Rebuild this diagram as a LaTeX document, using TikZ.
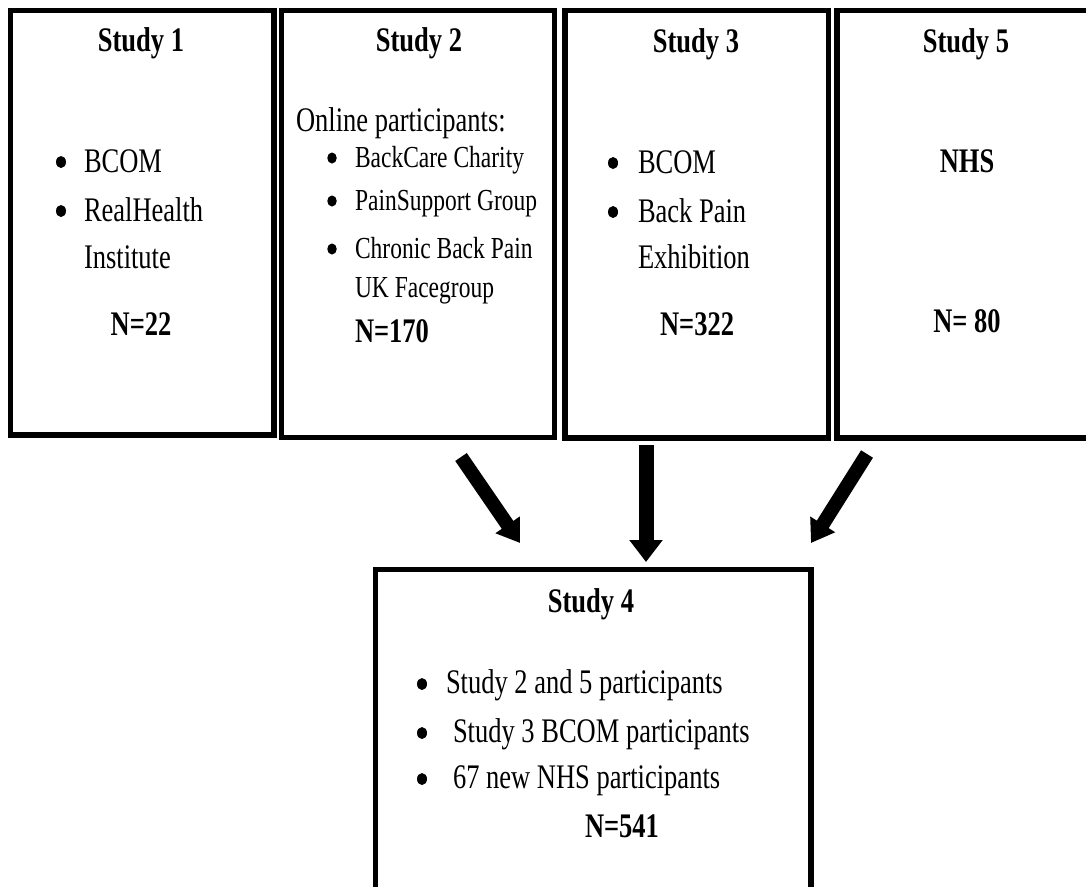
\documentclass[tikz,border=0pt]{standalone}
\usepackage{fontspec}
\setmainfont{Liberation Serif}
\usetikzlibrary{arrows.meta,shapes.geometric}
\newcommand\vs[1]{\scalebox{1}[1.3]{#1}}
\begin{document}
\begin{tikzpicture}[x=1pt,y=-1pt,
  box/.style={draw, line width=5.8pt, rectangle, inner sep=0pt, outer sep=0pt},
  txt/.style={inner sep=0pt, outer sep=0pt, anchor=base west, font=\fontsize{26.5}{30}\selectfont},
  ctxt/.style={txt, anchor=base},
  btxt/.style={txt, font=\fontsize{26.5}{30}\selectfont\bfseries},
  cbtxt/.style={btxt, anchor=base},
  small/.style={txt, font=\fontsize{23.5}{28}\selectfont},
  dot/.style={ellipse, fill=black, draw=none, inner sep=0pt, minimum width=10pt, minimum height=12pt},
  sdot/.style={dot, minimum width=9.5pt, minimum height=11pt},
  bigarrow/.style={line width=15pt, -{Triangle[width=32pt,length=22pt]}},
  diagarrow/.style={line width=14pt, -{Triangle[width=28pt,length=22pt]}}
]
\useasboundingbox (0,0) rectangle (1086,886);
\clip (0,0) rectangle (1086,886);
\fill[white] (0,0) rectangle (1086,886);

% boxes
\node[box, minimum width=263.5pt, minimum height=424.5pt] (s1) at (142.25,222.75) {};
\node[box, minimum width=273pt, minimum height=427pt] (s2) at (418,224) {};
\node[box, minimum width=263.5pt, minimum height=427.5pt] (s3) at (696.75,224.25) {};
\node[box, minimum width=258pt, minimum height=427.5pt] (s5) at (966,224.25) {};
\node[box, minimum width=435.5pt, minimum height=330.5pt] (s4) at (593.25,734.75) {};

% Study 1
\node[cbtxt] (t1) at (141,51) {\vs{Study 1}};
\node[dot] (b11) at (61,162) {};
\node[txt] (l11) at (84,172) {\vs{BCOM}};
\node[dot] (b12) at (61,211) {};
\node[txt] (l12) at (84,221) {\vs{RealHealth}};
\node[txt] (l13) at (84,268) {\vs{Institute}};
\node[cbtxt] (n1) at (141,335) {\vs{N=22}};

% Study 2
\node[cbtxt] (t2) at (419,51) {\vs{Study 2}};
\node[txt] (o2) at (296,131) {\vs{Online participants:}};
\node[sdot] (b21) at (332,158) {};
\node[small] (l21) at (355,167) {\vs{BackCare Charity}};
\node[sdot] (b22) at (332,201) {};
\node[small] (l22) at (355,210) {\vs{PainSupport Group}};
\node[sdot] (b23) at (332,249) {};
\node[small] (l23) at (355,258) {\vs{Chronic Back Pain}};
\node[small] (l24) at (355,297) {\vs{UK Facegroup}};
\node[btxt] (n2) at (355,342) {\vs{N=170}};

% Study 3
\node[cbtxt] (t3) at (696,52) {\vs{Study 3}};
\node[dot] (b31) at (613,163) {};
\node[txt] (l31) at (638,173) {\vs{BCOM}};
\node[dot] (b32) at (613,212) {};
\node[txt] (l32) at (638,222) {\vs{Back Pain}};
\node[txt] (l33) at (638,268) {\vs{Exhibition}};
\node[cbtxt] (n3) at (697,335) {\vs{N=322}};

% Study 5
\node[cbtxt] (t5) at (966,52) {\vs{Study 5}};
\node[cbtxt] (l51) at (967,172) {\vs{NHS}};
\node[cbtxt] (n5) at (967,332) {\vs{N= 80}};

% Study 4
\node[cbtxt] (t4) at (591,612) {\vs{Study 4}};
\node[dot] (b41) at (422,684) {};
\node[txt] (l41) at (446,693) {\vs{Study 2 and 5 participants}};
\node[dot] (b42) at (422,733) {};
\node[txt] (l42) at (453,742) {\vs{Study 3 BCOM participants}};
\node[dot] (b43) at (422,779) {};
\node[txt] (l43) at (453,788) {\vs{67 new NHS participants}};
\node[btxt] (n4) at (585,837) {\vs{N=541}};

% arrows
\coordinate (a1s) at (461,457);
\coordinate (a1e) at (520,543);
\coordinate (a2s) at (646,445);
\coordinate (a2e) at (646,562);
\coordinate (a3s) at (867,454);
\coordinate (a3e) at (811,543);
\draw[diagarrow] (a1s) -- (a1e);
\draw[bigarrow] (a2s) -- (a2e);
\draw[diagarrow] (a3s) -- (a3e);
\end{tikzpicture}
\end{document}
